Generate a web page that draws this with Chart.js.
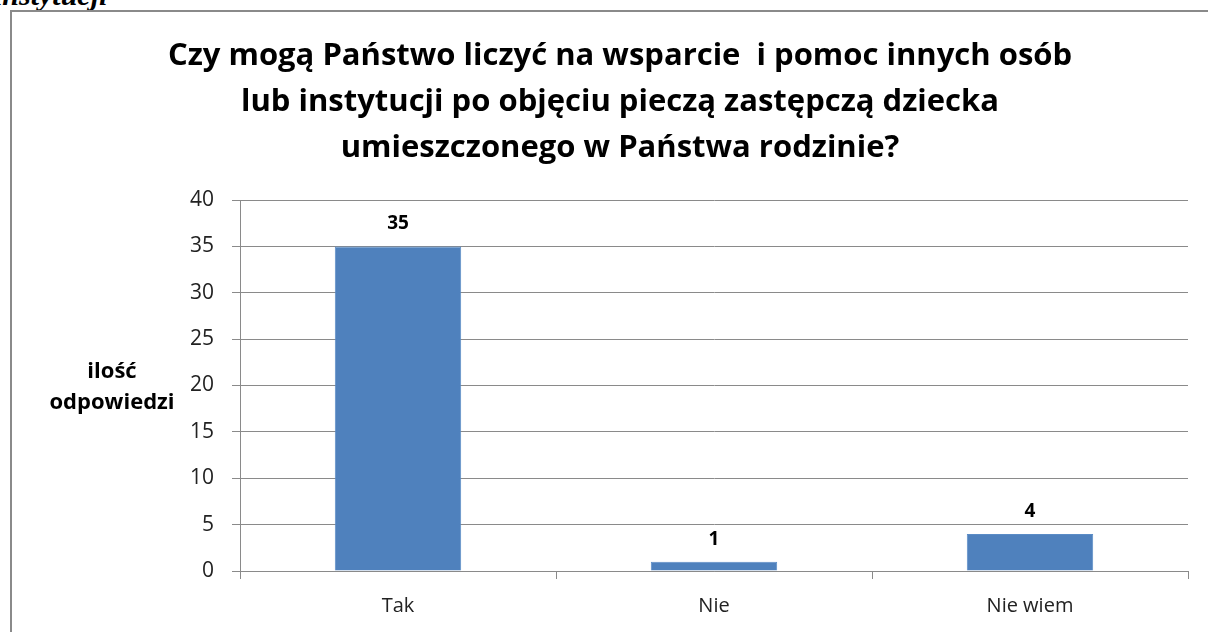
<!DOCTYPE html>
<html>
<head>
<meta charset="utf-8">
<script src="https://cdn.jsdelivr.net/npm/chart.js@4"></script>
<style>
  html, body { margin: 0; padding: 0; background: #fff; overflow: hidden; }
  #wrap { position: relative; width: 1208px; height: 632px; }
  #cut { position: absolute; left: -6px; top: -20px; font: italic bold 30px 'Liberation Serif', serif; line-height: 30px; color: #000; }
  #frame { position: absolute; left: 10px; top: 10px; width: 1230px; height: 660px; border: 2px solid #8a8a8a; pointer-events: none; }
  #chart { position: absolute; left: 0; top: 0; }
</style>
</head>
<body>
<div id="wrap">
  <div id="cut">instytucji</div>
  <div id="frame"></div>
  <canvas id="chart" width="1208" height="632"></canvas>
</div>
<script>
const categories = ['Tak', 'Nie', 'Nie wiem'];
const responses = [35, 1, 4];
const titleLines = [
    'Czy mogą Państwo liczyć na wsparcie  i pomoc innych osób',
    'lub instytucji po objęciu pieczą zastępczą dziecka',
    'umieszczonego w Państwa rodzinie?'
];
const yTitleLines = ['ilość', 'odpowiedzi'];

const gridColor = '#8a8a8a';
const fontName = '"Open Sans", sans-serif';

// value labels above the bars
const barLabels = {
    id: 'barLabels',
    afterDatasetsDraw(chart) {
        const ctx = chart.ctx;
        const meta = chart.getDatasetMeta(0);
        ctx.save();
        ctx.font = 'bold 19px ' + fontName;
        ctx.fillStyle = '#000';
        ctx.textAlign = 'center';
        ctx.textBaseline = 'alphabetic';
        meta.data.forEach(function (bar, i) {
            ctx.fillText(chart.data.datasets[0].data[i], bar.x, bar.y - 17);
        });
        ctx.restore();
    }
};

// horizontal y axis title, as in the original
const yTitle = {
    id: 'yTitle',
    afterDraw(chart) {
        const ctx = chart.ctx;
        ctx.save();
        ctx.font = 'bold 22px ' + fontName;
        ctx.fillStyle = '#000';
        ctx.textAlign = 'center';
        ctx.textBaseline = 'middle';
        ctx.fillText(yTitleLines[0], 112, 372);
        ctx.fillText(yTitleLines[1], 112, 403);
        ctx.restore();
    }
};

const chart = new Chart(document.getElementById('chart'), {
    type: 'bar',
    data: {
        labels: categories,
        datasets: [{
            label: 'ilość odpowiedzi',
            data: responses,
            backgroundColor: '#4f81bd',
            borderColor: '#5b8cc6',
            borderWidth: 1,
            barPercentage: 0.4,
            categoryPercentage: 1.0
        }]
    },
    options: {
        responsive: false,
        animation: false,
        layout: {
            padding: { left: 52, right: 20, top: 0, bottom: 0 }
        },
        scales: {
            y: {
                min: 0,
                max: 40,
                ticks: {
                    stepSize: 5,
                    padding: 18,
                    color: '#222',
                    font: { size: 21, family: fontName }
                },
                grid: {
                    color: gridColor,
                    lineWidth: 1,
                    tickLength: 8
                },
                border: { color: gridColor },
                afterFit: function (scale) { scale.width = 188; }
            },
            x: {
                ticks: {
                    padding: 15,
                    color: '#222',
                    font: { size: 20, family: fontName }
                },
                grid: {
                    drawOnChartArea: false,
                    color: gridColor,
                    tickLength: 8
                },
                border: { color: gridColor },
                afterFit: function (scale) { scale.height = 61; }
            }
        },
        plugins: {
            legend: { display: false },
            tooltip: { enabled: false },
            title: {
                display: true,
                text: titleLines,
                color: '#000',
                font: { size: 31, weight: 'bold', family: fontName, lineHeight: 1.484 },
                padding: { top: 33, bottom: 29 }
            }
        }
    },
    plugins: [barLabels, yTitle]
});
</script>
</body>
</html>
